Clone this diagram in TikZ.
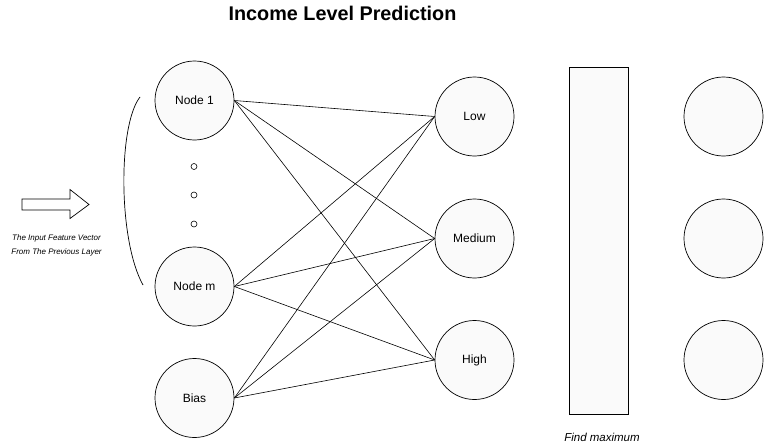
\documentclass[tikz,border=0pt]{standalone}
\usepackage{fontspec}
\setmainfont{Liberation Sans}
\begin{document}
\begin{tikzpicture}[x=1pt,y=-1pt,
  neuron/.style={circle,draw=black,fill=gray!4,line width=0.7pt,minimum size=79pt,inner sep=0pt,font=\fontsize{12}{14}\selectfont},
  tinydot/.style={circle,draw=black,fill=white,line width=0.6pt,minimum size=6pt,inner sep=0pt},
  link/.style={draw=black,line width=0.6pt},
  note/.style={font=\itshape\fontsize{8}{9}\selectfont,inner sep=0pt}]
\useasboundingbox (0,0) rectangle (764,447);

% title
\node[font=\bfseries\fontsize{19.8}{22}\selectfont] (title) at (342.5,13) {Income Level Prediction};

% input layer
\node[neuron] (n1) at (194.5,100.5) {Node 1};
\node[neuron] (nm) at (194.5,286.5) {Node m};
\node[neuron] (bias) at (194.5,398) {Bias};
\node[tinydot] (d1) at (194,166.5) {};
\node[tinydot] (d2) at (194,195) {};
\node[tinydot] (d3) at (194,224) {};

% output layer
\node[neuron] (low) at (474.5,116.5) {Low};
\node[neuron] (med) at (474.5,238.5) {Medium};
\node[neuron] (high) at (474.5,360) {High};

% softmax / argmax block
\node[draw=black,fill=gray!4,line width=0.7pt,minimum width=59pt,minimum height=347pt,inner sep=0pt] (maxbox) at (599,240.5) {};
\node[font=\itshape\fontsize{11.5}{13}\selectfont] (maxlabel) at (602,437) {Find maximum};

% result nodes
\node[neuron] (r1) at (723.5,116.5) {};
\node[neuron] (r2) at (723.5,238.5) {};
\node[neuron] (r3) at (723.5,360) {};

% fully connected weights
\foreach \s in {n1,nm,bias}
  \foreach \t in {low,med,high}
    \draw[link] (\s.east) -- (\t.west);

% incoming feature vector
\draw[line width=0.7pt,fill=white] (22,199) -- (70,199) -- (70,189.5) -- (89,204.5) -- (70,218.5) -- (70,210) -- (22,210) -- cycle;
\coordinate (in1) at (89,204.5);
\node[note] (lab1) at (56.5,238) {The Input Feature Vector};
\node[note] (lab2) at (56.5,252.5) {From The Previous Layer};

% grouping arc over the input neurons
\coordinate (gtop) at (140,97);
\coordinate (gbot) at (143,285);
\draw[line width=0.7pt] (gtop) .. controls (118,125) and (118,240) .. (gbot);
\end{tikzpicture}
\end{document}
